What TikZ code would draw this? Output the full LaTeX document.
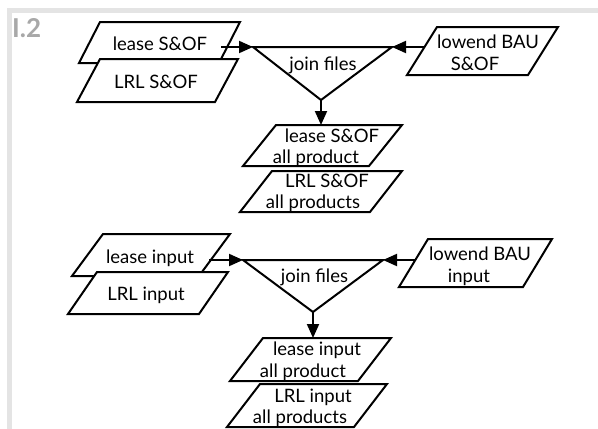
\documentclass[tikz,border=0pt]{standalone}
\usepackage{fontspec}
\setmainfont{Lato}
\usetikzlibrary{arrows.meta}
\definecolor{framegray}{HTML}{E4E4E4}
\definecolor{labelgray}{HTML}{A8A8A8}
% #1 name, #2 top y, #3 bottom y, #4 top-left x, #5 top-right x, #6 slant
\newcommand\pgram[6]{%
  \draw[pg] (#4,#2) -- (#5,#2) -- (#5-#6,#3) -- (#4-#6,#3) -- cycle;
  \coordinate (#1) at ({(#4+#5-#6)/2},{(#2+#3)/2});
}
\begin{document}
\begin{tikzpicture}[x=1pt,y=-1pt,
  pg/.style={draw,line width=2pt,fill=white,line join=miter},
  lbl/.style={anchor=base,inner sep=0pt,font=\fontsize{18.5}{21}\selectfont},
  arr/.style={line width=2pt,-{Triangle[length=14pt,width=12pt]}}]
\useasboundingbox (0,0) rectangle (598,429);
\fill[white] (0,0) rectangle (598,429);
% frame
\fill[framegray] (7,8) rectangle (598,13);
\fill[framegray] (7,8) rectangle (12,429);
\node[anchor=base west,inner sep=0pt,text=labelgray,font=\bfseries\fontsize{26}{30}\selectfont] (title) at (12,37) {I.2};

% ---------- upper group ----------
\pgram{leaseSOF}{22}{63}{100}{240}{21}
\pgram{lrlSOF}{59}{102}{100}{238}{23}
\node[lbl] (t1) at (160,50) {lease S\&OF};
\node[lbl] (t2) at (156,88) {LRL S\&OF};

\pgram{lowSOF}{27}{75}{437}{558}{30}
\node[lbl] (t3) at (488,48) {lowend BAU};
\node[lbl] (t4) at (475,70) {S\&OF};

\coordinate (j1l) at (253,47);
\coordinate (j1r) at (392,47);
\coordinate (j1b) at (321,100);
\draw[pg] (j1l) -- (j1r) -- (j1b) -- cycle;
\node[lbl] (j1) at (323,70) {join files};

\pgram{outA}{125}{166}{276}{402}{33}
\node[lbl] (t5) at (332,142) {lease S\&OF};
\node[lbl] (t6) at (316,163) {all product};
\pgram{outB}{171}{212}{272}{402}{32}
\node[lbl] (t7) at (327,187) {LRL S\&OF};
\node[lbl] (t8) at (313,208) {all products};

\coordinate (a1s) at (221,47);
\coordinate (a2s) at (424,47);
\coordinate (a3e) at (321,125);
\draw[arr] (a1s) -- (j1l);
\draw[arr] (a2s) -- (j1r);
\draw[arr] (j1b) -- (a3e);

% ---------- lower group ----------
\pgram{leaseIn}{234}{276}{103}{230}{31}
\pgram{lrlIn}{272}{314}{97}{228}{29}
\node[lbl] (u1) at (150,263) {lease input};
\node[lbl] (u2) at (146,300) {LRL input};

\pgram{lowIn}{239}{287}{428}{552}{29}
\node[lbl] (u3) at (480,260) {lowend BAU};
\node[lbl] (u4) at (469,282) {input};

\coordinate (j2l) at (243,260);
\coordinate (j2r) at (383,260);
\coordinate (j2b) at (313,312);
\draw[pg] (j2l) -- (j2r) -- (j2b) -- cycle;
\node[lbl] (j2) at (314.5,282) {join files};

\pgram{outC}{338}{381}{263}{391}{33}
\node[lbl] (u5) at (317,355) {lease input};
\node[lbl] (u6) at (303,377) {all product};
\pgram{outD}{384}{427}{260}{387}{33}
\node[lbl] (u7) at (313,402) {LRL input};
\node[lbl] (u8) at (300,423) {all products};

\coordinate (b1s) at (209,260);
\coordinate (b2s) at (415,260);
\coordinate (b3e) at (313,338);
\draw[arr] (b1s) -- (j2l);
\draw[arr] (b2s) -- (j2r);
\draw[arr] (j2b) -- (b3e);
\end{tikzpicture}
\end{document}
